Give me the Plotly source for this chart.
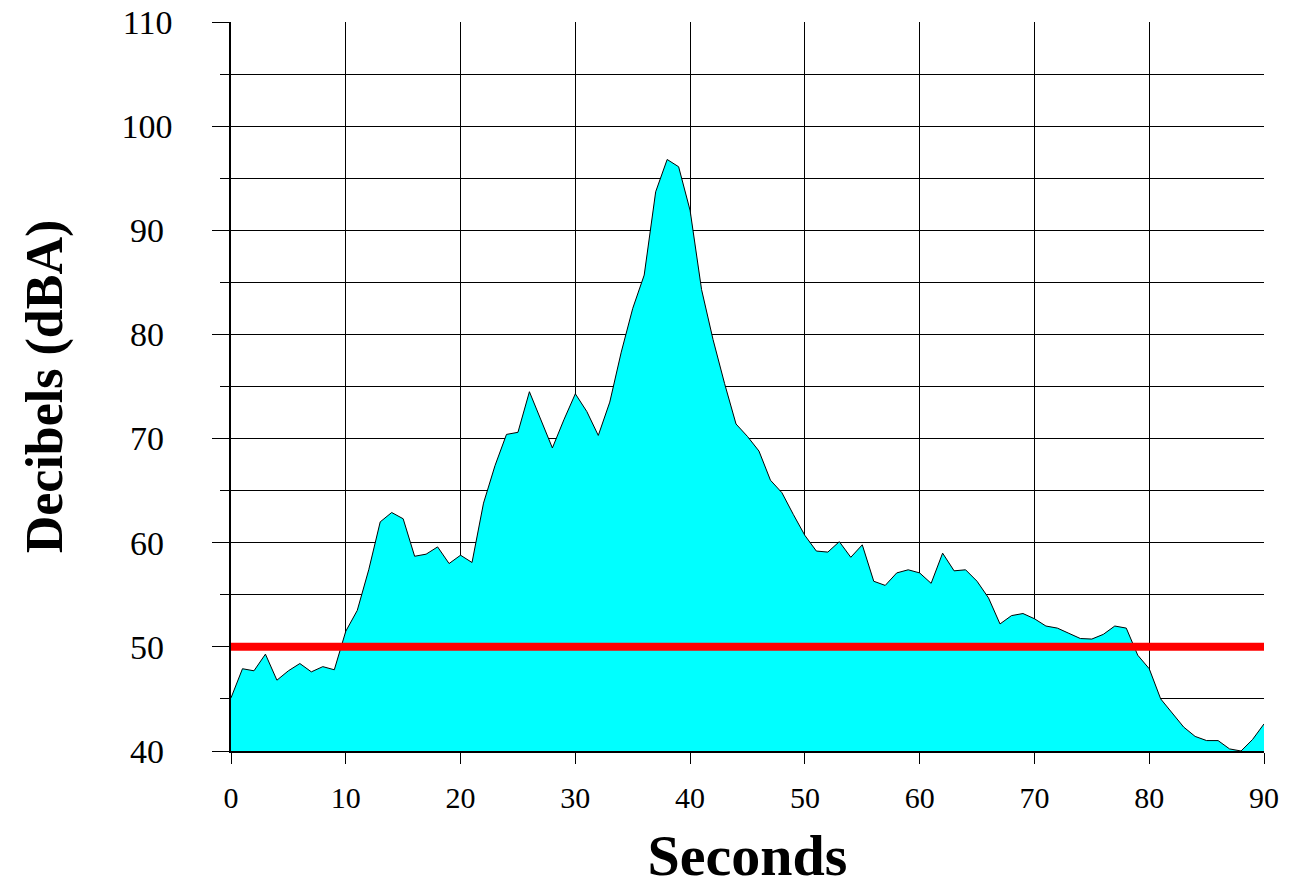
import plotly.graph_objects as go

seconds = list(range(0, 91))
decibels = [
    45.1, 47.9, 47.7, 49.3, 46.8, 47.7, 48.4, 47.6, 48.1, 47.8,
    51.5, 53.5, 57.4, 62.0, 62.9, 62.3, 58.7, 58.9, 59.6, 58.0,
    58.8, 58.1, 63.8, 67.4, 70.4, 70.6, 74.5, 71.8, 69.1, 71.8,
    74.3, 72.6, 70.3, 73.5, 78.3, 82.5, 85.7, 93.7, 96.8, 96.1,
    91.9, 84.3, 79.5, 75.3, 71.4, 70.2, 68.8, 66.0, 64.8, 62.7,
    60.7, 59.2, 59.1, 60.1, 58.6, 59.8, 56.3, 55.9, 57.1, 57.4,
    57.1, 56.1, 59.0, 57.3, 57.4, 56.3, 54.7, 52.2, 53.0, 53.2,
    52.7, 52.0, 51.8, 51.3, 50.8, 50.75, 51.2, 52.0, 51.8, 49.2,
    47.9, 45.0, 43.6, 42.3, 41.4, 41.0, 41.0, 40.2, 40.0, 41.1,
    42.6,
]
limit_x = [0, 90]
limit_y = [50, 50]

x_ticks = [0, 10, 20, 30, 40, 50, 60, 70, 80, 90]
y_ticks = [40, 50, 60, 70, 80, 90, 100, 110]
y_ticktext = [(str(v) if v >= 100 else str(v) + "\u2008") for v in y_ticks]

fig = go.Figure()
fig.add_trace(go.Scatter(
    x=seconds, y=decibels, mode="lines",
    line=dict(color="black", width=1),
    fill="tozeroy", fillcolor="#00FFFF",
    showlegend=False, hoverinfo="skip",
))
fig.add_trace(go.Scatter(
    x=limit_x, y=limit_y, mode="lines",
    line=dict(color="#FF0000", width=8),
    showlegend=False, hoverinfo="skip",
))

serif = "Liberation Serif, Times New Roman, serif"

fig.update_layout(
    width=1299, height=888,
    margin=dict(l=231, r=35, t=22, b=137),
    paper_bgcolor="white", plot_bgcolor="white",
    font=dict(family=serif, color="black"),
    showlegend=False,
)
fig.update_xaxes(
    range=[0, 90], tickvals=x_ticks,
    showgrid=True, gridcolor="black", gridwidth=1,
    showline=True, linecolor="black", linewidth=1.5,
    ticks="outside", ticklen=11, tickcolor="black", tickwidth=1,
    tickfont=dict(family=serif, size=30, color="black"),
    ticklabelstandoff=8, ticklabeloverflow="allow",
    zeroline=False, automargin=False,
    title=dict(text="Seconds", font=dict(family=serif, size=58, color="black", weight="bold"), standoff=34),
)
fig.update_yaxes(
    range=[40, 110], tickvals=y_ticks, ticktext=y_ticktext,
    showgrid=True, gridcolor="black", gridwidth=1,
    showline=True, linecolor="black", linewidth=1.5,
    ticks="outside", ticklen=17, tickcolor="black", tickwidth=1,
    tickfont=dict(family=serif, size=34, color="black"),
    ticklabelstandoff=33, ticklabeloverflow="allow",
    minor=dict(dtick=5, tick0=0, showgrid=True, gridcolor="black", gridwidth=1,
               ticks="outside", ticklen=9, tickcolor="black"),
    zeroline=False, automargin=False,
    title=dict(text="Decibels (dBA)", font=dict(family=serif, size=52, color="black", weight="bold"), standoff=42),
)

fig.write_html(
    "out.html",
    config={"displayModeBar": False},
    post_script="document.body.style.margin='0px';document.body.style.overflow='hidden';",
)
